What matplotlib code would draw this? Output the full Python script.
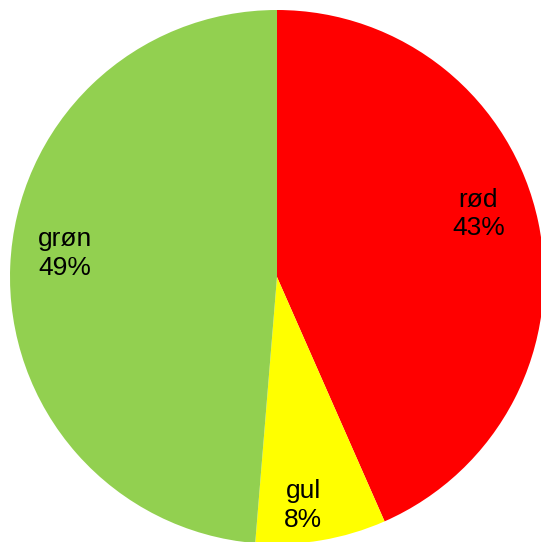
import numpy as np
import matplotlib
matplotlib.use("Agg")
import matplotlib.pyplot as plt

# farver og andele
labels = ["rød", "gul", "grøn"]
shares = [43.4, 7.9, 48.7]
pct_text = ["43%", "8%", "49%"]
colors = ["#FF0000", "#FFFF00", "#92D050"]

plt.rcParams["font.family"] = ["Liberation Sans", "DejaVu Sans"]

fig = plt.figure(figsize=(5.41, 5.42), dpi=100)
r_px = 267
cx, cy = 277, 542 - 277
ax = fig.add_axes([(cx - r_px) / 541, (cy - r_px) / 542, 2 * r_px / 541, 2 * r_px / 542])

wedges, _ = ax.pie(shares, colors=colors, startangle=90, counterclock=False,
                   radius=1, wedgeprops=dict(linewidth=0))
ax.set_xlim(-1, 1)
ax.set_ylim(-1, 1)
ax.set_aspect("equal")
ax.axis("off")

# label placement: shift from wedge mid angle and distance from centre
angle_shift = [5.5, -3, -4]
label_dist = [0.79, 0.86, 0.80]
for w, lab, pct, da, d in zip(wedges, labels, pct_text, angle_shift, label_dist):
    mid = np.deg2rad((w.theta1 + w.theta2) / 2 + da)
    ax.text(d * np.cos(mid), d * np.sin(mid), lab + "\n" + pct,
            ha="center", va="center", fontsize=19, linespacing=1.25)

fig.savefig("out.png", dpi=100)
